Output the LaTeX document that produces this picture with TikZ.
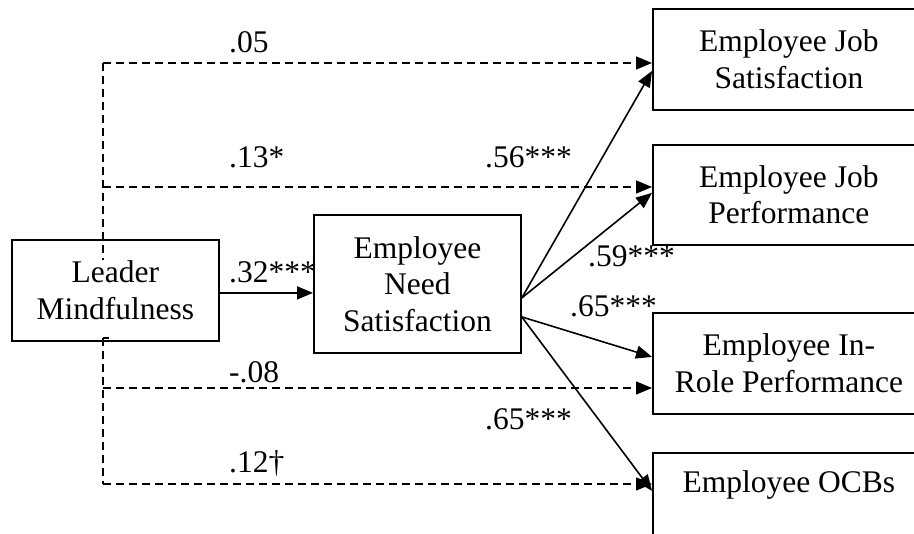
\documentclass[tikz,border=0pt]{standalone}
\usepackage{fontspec}
\setmainfont{Liberation Serif}
\usetikzlibrary{arrows.meta,calc}
\begin{document}
\begin{tikzpicture}[x=1pt,y=-1pt,
  box/.style={draw,line width=1.8pt,inner sep=0pt,align=center,font=\fontsize{31.5}{36.5}\selectfont,anchor=north west},
  lab/.style={inner sep=0pt,anchor=base west,font=\fontsize{31.5}{36.5}\selectfont},
  solidarrow/.style={line width=1.6pt,-{Triangle[length=16pt,width=13pt]}},
  dasharrow/.style={line width=1.5pt,dash pattern=on 8pt off 5pt,-{Triangle[length=16pt,width=13pt]}},
  dashline/.style={line width=1.5pt,dash pattern=on 8pt off 5pt}]
\clip (0,0) rectangle (914,534);
% boxes
\node[box,minimum width=207pt,minimum height=101pt] (lm) at (11,239) {Leader\\Mindfulness};
\node[box,minimum width=207pt,minimum height=138pt] (ens) at (313,214) {Employee\\Need\\Satisfaction};
\node[box,minimum width=272pt,minimum height=101pt] (js) at (652,8) {Employee Job\\Satisfaction};
\node[box,minimum width=272pt,minimum height=100pt] (jp) at (652,144) {Employee Job\\Performance};
\node[box,minimum width=272pt,minimum height=101pt] (irp) at (652,312) {Employee In-\\Role Performance};
\node[box,minimum width=272pt,text height=30pt,text depth=70pt,inner ysep=10pt] (ocb) at (652,452) {Employee OCBs};
% dashed direct paths
\coordinate (vt) at (103,63);
\coordinate (v2) at (103,187);
\coordinate (vm1) at (103,260);
\coordinate (vm2) at (103,338);
\coordinate (v3) at (103,388);
\coordinate (vb) at (103,484);
\draw[dashline] (vt) -- (vm1);
\draw[dashline] (vm2) -- (vb);
\draw[line width=1.5pt] (vm2) -- ++(6,0);
\draw[dasharrow] (vt) -- (vt -| js.west);
\draw[dasharrow] (v2) -- (v2 -| jp.west);
\draw[dasharrow] (v3) -- (v3 -| irp.west);
\draw[dasharrow] (vb) -- (vb -| ocb.west);
% solid paths
\coordinate (li) at ($(lm.east)+(0,2.5)$);
\draw[solidarrow] (li) -- (li -| ens.west);
\coordinate (o1) at ($(ens.east)+(0,14)$);
\coordinate (o2) at ($(ens.east)+(0,33)$);
\draw[solidarrow] (o1) -- ($(js.west)+(0,11.5)$);
\draw[solidarrow] (o1) -- ($(jp.west)+(0,-2)$);
\draw[solidarrow] (o2) -- ($(irp.west)+(0,-6.5)$);
\draw[solidarrow] (o2) -- ($(ocb.west)+(0,-22)$);
% labels
\node[lab] (l05) at (229,53) {.05};
\node[lab] (l13) at (229,168) {.13*};
\node[lab] (l32) at (229,283) {.32***};
\node[lab] (l08) at (229,383) {-.08};
\node[lab] (l12) at (229,473) {.12†};
\node[lab] (l56) at (485,168) {.56***};
\node[lab] (l59) at (588,267) {.59***};
\node[lab] (l65a) at (570,317) {.65***};
\node[lab] (l65b) at (485,430) {.65***};
\end{tikzpicture}
\end{document}
